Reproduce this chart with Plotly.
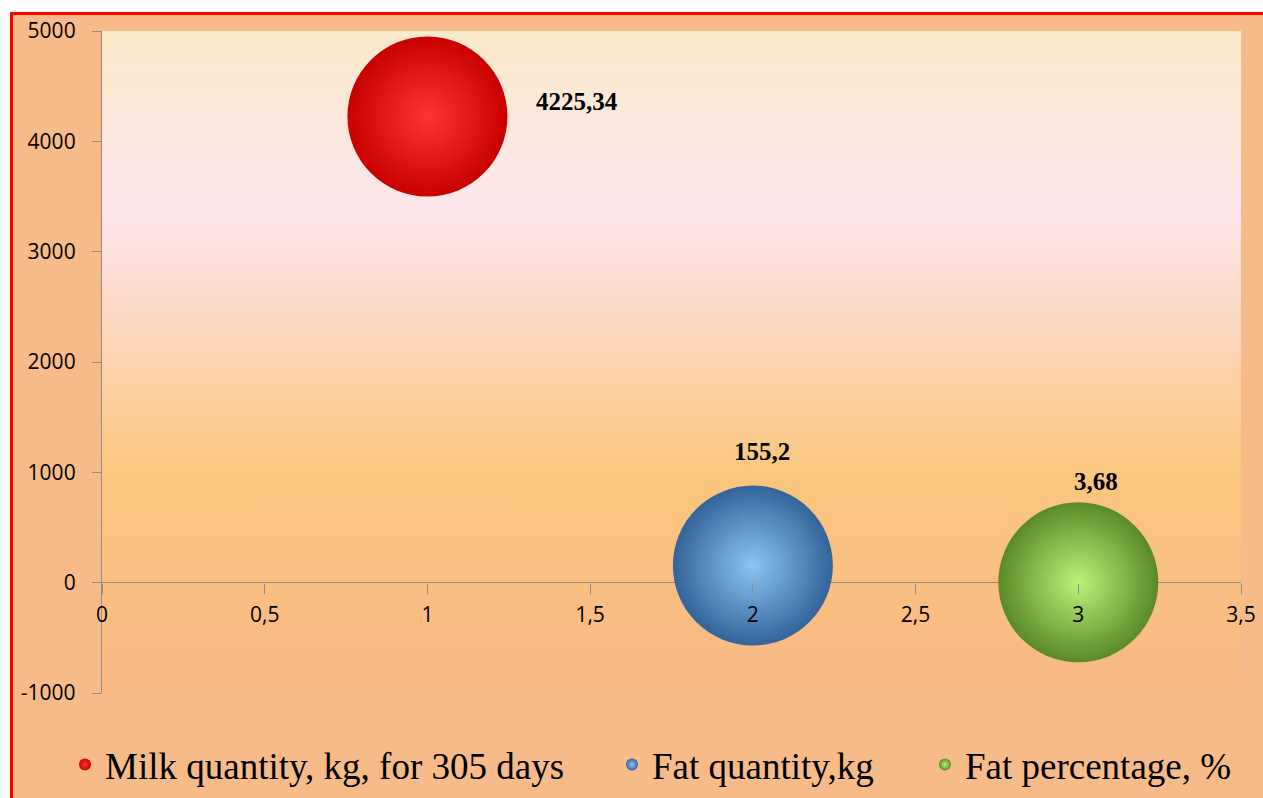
import base64
import plotly.graph_objects as go

# Series: one bubble per indicator
series_names = ["Milk quantity, kg, for 305 days", "Fat quantity,kg", "Fat percentage, %"]
x_values = [1, 2, 3]
y_values = [4225.34, 155.2, 3.68]

# Y axis ticks
y_tickvals = [-1000, 0, 1000, 2000, 3000, 4000, 5000]
y_ticktext = ["-1000", "0", "1000", "2000", "3000", "4000", "5000"]

# Sphere colours: edge colour and lighter centre colour
edge_colors = ["#C80000", "#33649A", "#5A8A26"]
center_colors = ["#FF3434", "#8CC4F2", "#BDF27A"]

# Pixel offsets of the value labels relative to each bubble centre
label_dx = [150, 9, 18]
label_dy = [15, 114, 101]

# Canvas geometry (pixels)
W, H = 1263, 798
PL, PR, PT, PB = 102, 1241, 31, 693  # plot area edges

Y_MIN, Y_MAX = -1000, 5000


def px_x(p):
    return (p - PL) / (PR - PL)


def px_y(p):
    return (PB - p) / (PB - PT)


# Vertical gradient for the plot area
stops = [(0.0, "#FAE9CA"), (0.27, "#FDE6EB"), (0.45, "#FBD7BE"),
         (0.66, "#FAC77E"), (1.0, "#F8B884")]
stop_xml = "".join(f'<stop offset="{o}" stop-color="{c}"/>' for o, c in stops)
svg = ('<svg xmlns="http://www.w3.org/2000/svg" width="100" height="100" '
       'preserveAspectRatio="none"><defs><linearGradient id="g" x1="0" y1="0" '
       f'x2="0" y2="1">{stop_xml}</linearGradient></defs>'
       '<rect width="100" height="100" fill="url(#g)"/></svg>')
bg_uri = "data:image/svg+xml;base64," + base64.b64encode(svg.encode()).decode()

fig = go.Figure()

legend_ids = ["legend", "legend2", "legend3"]
for i, name in enumerate(series_names):
    fig.add_trace(go.Scatter(
        x=[x_values[i]], y=[y_values[i]],
        mode="markers",
        name=name,
        legend=legend_ids[i],
        marker=dict(size=160, sizemode="diameter", color=edge_colors[i],
                    line=dict(width=0),
                    gradient=dict(type="radial", color=center_colors[i])),
        cliponaxis=False,
        hoverinfo="skip",
    ))

# Value labels
for i, v in enumerate(y_values):
    fig.add_annotation(
        x=x_values[i], y=v, xref="x", yref="y",
        text="<b>" + f"{v}".replace(".", ",") + "</b>",
        showarrow=False, xshift=label_dx[i], yshift=label_dy[i],
        font=dict(family="Liberation Serif", size=25, color="#000000"),
    )

axis_gray = "#8C8C8C"
tick_font = dict(family="Open Sans", size=21, color="#000000")

fig.update_layout(
    width=W, height=H,
    margin=dict(l=PL, r=W - PR, t=PT, b=H - PB, autoexpand=False),
    paper_bgcolor="#F7BB8A",
    plot_bgcolor="rgba(0,0,0,0)",
    separators=", ",
    showlegend=True,
    xaxis=dict(
        range=[0, 3.5], tick0=0, dtick=0.5,
        showgrid=False, zeroline=False, showline=False,
        ticks="outside", ticklen=10, tickwidth=1, tickcolor=axis_gray,
        anchor="free", position=(0 - Y_MIN) / (Y_MAX - Y_MIN),
        tickfont=tick_font, ticklabelstandoff=3,
    ),
    yaxis=dict(
        range=[Y_MIN, Y_MAX], tickvals=y_tickvals, ticktext=y_ticktext,
        showgrid=False, zeroline=True, zerolinecolor=axis_gray, zerolinewidth=1.3,
        showline=True, linecolor=axis_gray, linewidth=1.3,
        ticks="outside", ticklen=9, tickwidth=1.3, tickcolor=axis_gray,
        tickfont=tick_font, ticklabelstandoff=12,
    ),
    images=[dict(source=bg_uri, xref="paper", yref="paper", x=0, y=1,
                 sizex=1, sizey=1, xanchor="left", yanchor="top",
                 sizing="stretch", layer="below")],
)

# Horizontal legend entries at the bottom
legend_font = dict(family="Liberation Serif", size=37, color="#000000")
legend_text_x = [105, 652, 965]
for lid, tx in zip(legend_ids, legend_text_x):
    fig.update_layout({lid: dict(
        x=px_x(tx - 40), y=px_y(765), xanchor="left", yanchor="middle",
        orientation="h", font=legend_font, itemsizing="constant",
        bgcolor="rgba(0,0,0,0)", borderwidth=0,
    )})

# White margin outside the chart frame and the red frame edges
fig.add_shape(type="rect", xref="paper", yref="paper",
              x0=px_x(-5), x1=px_x(10), y0=px_y(H + 5), y1=px_y(-5),
              fillcolor="white", line=dict(width=0), layer="below")
fig.add_shape(type="rect", xref="paper", yref="paper",
              x0=px_x(-5), x1=px_x(W + 5), y0=px_y(12), y1=px_y(-5),
              fillcolor="white", line=dict(width=0), layer="below")
fig.add_shape(type="line", xref="paper", yref="paper",
              x0=px_x(11.5), x1=px_x(11.5), y0=px_y(H + 5), y1=px_y(12),
              line=dict(color="#FF0000", width=3), layer="above")
fig.add_shape(type="line", xref="paper", yref="paper",
              x0=px_x(10), x1=px_x(W + 5), y0=px_y(13.5), y1=px_y(13.5),
              line=dict(color="#FF0000", width=3), layer="above")

fig.write_html("out.html")
